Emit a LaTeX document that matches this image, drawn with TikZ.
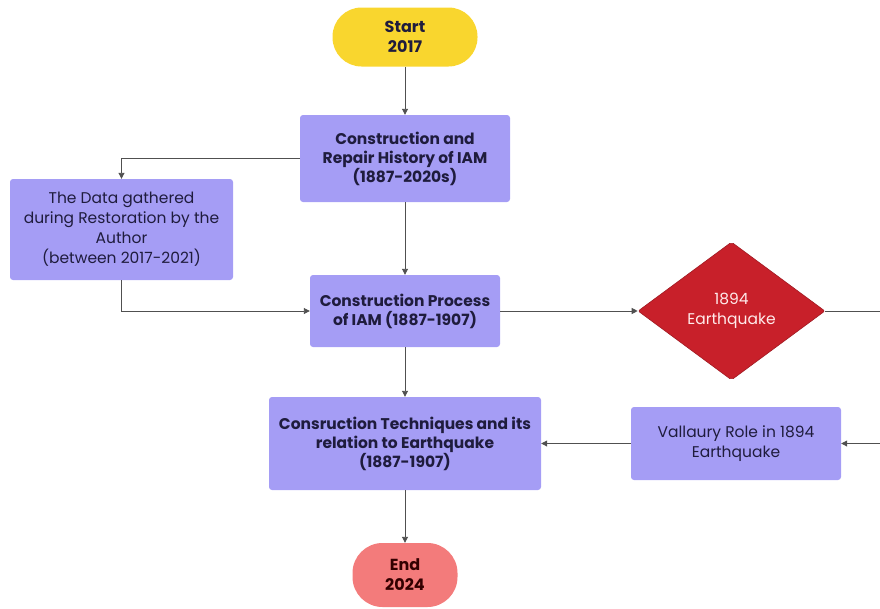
\documentclass[tikz,border=0pt]{standalone}
\usepackage{fontspec}
\setmainfont{Poppins}
\usetikzlibrary{shapes.geometric,arrows.meta}
\definecolor{boxfill}{HTML}{A59DF5}
\definecolor{boxtext}{HTML}{1F1C3D}
\definecolor{startfill}{HTML}{F9D62E}
\definecolor{endfill}{HTML}{F37B7B}
\definecolor{quakefill}{HTML}{C8202A}
\definecolor{linecol}{HTML}{505050}
\tikzset{
  x=1pt, y=-1pt,
  box/.style={fill=boxfill, rounded corners=3pt, text=boxtext, align=center,
    inner sep=0pt, font=\fontsize{15.5}{20}\selectfont},
  boldbox/.style={box, font=\fontsize{15.5}{19}\selectfont\bfseries},
  terminal/.style={align=center, inner sep=0pt, text=boxtext,
    font=\fontsize{16}{20}\selectfont\bfseries},
  flow/.style={draw=linecol, line width=0.9pt, -{Triangle[length=6pt,width=6pt]}},
  plain/.style={draw=linecol, line width=0.9pt},
}
\begin{document}
\begin{tikzpicture}
\useasboundingbox (0,0) rectangle (880,608);

\node[terminal, fill=startfill, rounded corners=29pt, minimum width=145pt, minimum height=59pt]
  (start) at (405,37) {Start\\2017};
\node[boldbox, minimum width=210pt, minimum height=87pt]
  (history) at (405,158.5) {Construction and\\Repair History of IAM\\(1887-2020s)};
\node[box, minimum width=223pt, minimum height=101pt]
  (data) at (121.5,229.5) {The Data gathered\\during Restoration by the\\Author\\(between 2017-2021)};
\node[boldbox, minimum width=190pt, minimum height=72pt]
  (process) at (405,311) {Construction Process\\of IAM (1887-1907)};
\node[diamond, fill=quakefill, draw=quakefill!80!black, line width=0.6pt, rounded corners=2pt,
  minimum width=187pt, minimum height=138pt, inner sep=0pt, align=center,
  text=white!92!red, font=\fontsize{15.5}{20}\selectfont]
  (quake) at (731.5,311) {1894\\Earthquake};
\node[boldbox, minimum width=272pt, minimum height=93pt]
  (tech) at (405,443.5) {Consruction Techniques and its\\relation to Earthquake\\(1887-1907)};
\node[box, minimum width=210pt, minimum height=73pt]
  (vallaury) at (736,443.5) {Vallaury Role in 1894\\Earthquake};
\node[terminal, fill=endfill, text=black!80!red, rounded corners=30pt, minimum width=105pt, minimum height=64pt]
  (end) at (405,575) {End\\2024};

\coordinate (outR) at (880,311);
\coordinate (inR) at (880,443.5);

\draw[flow] (start) -- (history);
\draw[flow] (history.west) -| (data.north);
\draw[flow] (history) -- (process);
\draw[flow] (data.south) |- (process.west);
\draw[flow] (process) -- (quake);
\draw[plain] (quake.east) -- (outR);
\draw[flow] (inR) -- (vallaury);
\draw[flow] (vallaury) -- (tech);
\draw[flow] (process) -- (tech);
\draw[flow] (tech) -- (end);
\end{tikzpicture}
\end{document}
